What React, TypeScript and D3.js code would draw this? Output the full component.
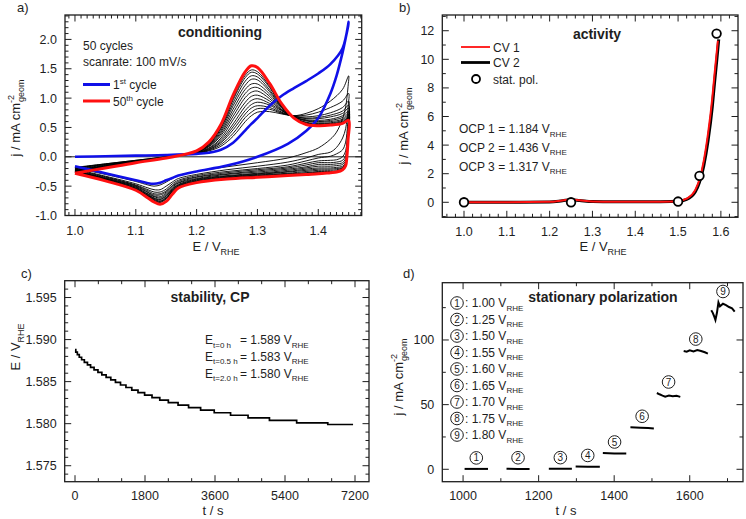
import React from "react";
import * as d3 from "d3";

const FONT = "'Liberation Sans', Arial, Helvetica, sans-serif";
const INK = "#1e1e1e";

// ---------------- Panel a: conditioning (50 CV cycles) ----------------
const condAnodicE = [1.0, 1.05, 1.1, 1.15, 1.2, 1.22, 1.24, 1.26, 1.28, 1.29, 1.3, 1.32, 1.34, 1.36, 1.38, 1.4, 1.42, 1.44, 1.45];
const condCathodicE = [1.45, 1.449, 1.447, 1.445, 1.44, 1.43, 1.42, 1.4, 1.38, 1.35, 1.3, 1.25, 1.2, 1.17, 1.16, 1.15, 1.14, 1.13, 1.12, 1.1, 1.05, 1.0];

const cycle1Anodic = [0.0, 0.01, 0.02, 0.03, 0.05, 0.07, 0.12, 0.24, 0.45, 0.56, 0.66, 0.87, 1.04, 1.17, 1.29, 1.42, 1.58, 1.85, 2.3];
const cycle1Cathodic = [2.3, 2.22, 2.12, 2.02, 1.78, 1.38, 1.08, 0.66, 0.44, 0.22, 0.0, -0.15, -0.25, -0.32, -0.36, -0.4, -0.44, -0.46, -0.45, -0.4, -0.28, -0.16];

const cycle50Anodic = [-0.28, -0.19, -0.1, -0.02, 0.1, 0.25, 0.55, 1.05, 1.45, 1.55, 1.52, 1.25, 0.9, 0.66, 0.55, 0.53, 0.54, 0.57, 0.62];
const cycle50Cathodic = [0.62, 0.3, 0.0, -0.15, -0.22, -0.26, -0.27, -0.29, -0.3, -0.32, -0.35, -0.38, -0.44, -0.53, -0.64, -0.76, -0.81, -0.77, -0.7, -0.57, -0.41, -0.28];

const midCyclesAnodic: number[][] = [
  [-0.18, -0.12, -0.06, 0.0, 0.06, 0.1, 0.18, 0.35, 0.6, 0.7, 0.76, 0.77, 0.73, 0.7, 0.74, 0.82, 0.95, 1.15, 1.38],
  [-0.19, -0.12, -0.06, 0.0, 0.06, 0.11, 0.21, 0.4, 0.67, 0.76, 0.82, 0.81, 0.74, 0.7, 0.71, 0.76, 0.84, 0.95, 1.08],
  [-0.19, -0.13, -0.07, 0.0, 0.07, 0.12, 0.24, 0.46, 0.73, 0.83, 0.87, 0.84, 0.75, 0.69, 0.68, 0.7, 0.75, 0.84, 0.95],
  [-0.2, -0.13, -0.07, -0.01, 0.07, 0.13, 0.26, 0.51, 0.79, 0.89, 0.93, 0.88, 0.76, 0.69, 0.66, 0.67, 0.71, 0.78, 0.88],
  [-0.21, -0.14, -0.07, -0.01, 0.07, 0.14, 0.29, 0.56, 0.86, 0.96, 0.99, 0.91, 0.78, 0.69, 0.65, 0.65, 0.68, 0.74, 0.83],
  [-0.22, -0.15, -0.08, -0.01, 0.08, 0.15, 0.32, 0.63, 0.93, 1.03, 1.05, 0.95, 0.79, 0.68, 0.63, 0.62, 0.64, 0.7, 0.78],
  [-0.23, -0.15, -0.08, -0.01, 0.08, 0.17, 0.36, 0.69, 1.01, 1.1, 1.12, 0.99, 0.8, 0.68, 0.62, 0.6, 0.62, 0.67, 0.75],
  [-0.23, -0.16, -0.08, -0.01, 0.08, 0.18, 0.39, 0.75, 1.08, 1.17, 1.18, 1.03, 0.81, 0.68, 0.61, 0.59, 0.6, 0.64, 0.72],
  [-0.24, -0.16, -0.09, -0.01, 0.09, 0.19, 0.42, 0.81, 1.15, 1.24, 1.24, 1.07, 0.83, 0.67, 0.59, 0.57, 0.58, 0.62, 0.7],
  [-0.25, -0.17, -0.09, -0.02, 0.09, 0.2, 0.45, 0.87, 1.22, 1.32, 1.31, 1.11, 0.84, 0.67, 0.58, 0.56, 0.57, 0.6, 0.68],
  [-0.26, -0.17, -0.09, -0.02, 0.09, 0.21, 0.48, 0.92, 1.29, 1.38, 1.36, 1.14, 0.85, 0.67, 0.57, 0.55, 0.56, 0.59, 0.67],
  [-0.26, -0.18, -0.1, -0.02, 0.1, 0.22, 0.5, 0.97, 1.35, 1.44, 1.41, 1.18, 0.86, 0.66, 0.57, 0.55, 0.55, 0.58, 0.66],
  [-0.27, -0.18, -0.1, -0.02, 0.1, 0.23, 0.52, 1.0, 1.39, 1.48, 1.45, 1.2, 0.87, 0.66, 0.56, 0.54, 0.55, 0.58, 0.65],
];
const midCyclesCathodic: number[][] = [
  [1.38, 1.2, 1.0, 0.85, 0.65, 0.42, 0.3, 0.15, 0.07, -0.02, -0.1, -0.17, -0.25, -0.32, -0.37, -0.43, -0.48, -0.5, -0.48, -0.42, -0.3, -0.19],
  [1.08, 0.85, 0.62, 0.48, 0.32, 0.16, 0.08, 0.04, -0.02, -0.09, -0.16, -0.22, -0.3, -0.37, -0.43, -0.5, -0.56, -0.56, -0.53, -0.46, -0.33, -0.21],
  [0.95, 0.65, 0.4, 0.25, 0.12, 0.05, 0.01, -0.02, -0.07, -0.14, -0.2, -0.25, -0.32, -0.4, -0.46, -0.55, -0.6, -0.6, -0.56, -0.48, -0.34, -0.22],
  [0.88, 0.5, 0.25, 0.1, 0.0, -0.05, -0.06, -0.07, -0.11, -0.17, -0.22, -0.27, -0.34, -0.42, -0.49, -0.58, -0.63, -0.63, -0.58, -0.49, -0.35, -0.23],
  [0.83, 0.4, 0.15, 0.02, -0.06, -0.09, -0.1, -0.1, -0.14, -0.19, -0.24, -0.29, -0.35, -0.44, -0.5, -0.6, -0.65, -0.65, -0.6, -0.5, -0.36, -0.24],
  [0.78, 0.35, 0.1, -0.03, -0.1, -0.12, -0.13, -0.13, -0.17, -0.21, -0.26, -0.3, -0.37, -0.45, -0.52, -0.62, -0.68, -0.67, -0.61, -0.51, -0.37, -0.24],
  [0.75, 0.33, 0.06, -0.07, -0.13, -0.15, -0.16, -0.16, -0.19, -0.23, -0.28, -0.32, -0.38, -0.47, -0.54, -0.64, -0.7, -0.68, -0.63, -0.52, -0.37, -0.25],
  [0.72, 0.32, 0.04, -0.1, -0.16, -0.18, -0.19, -0.19, -0.21, -0.25, -0.29, -0.33, -0.39, -0.48, -0.55, -0.66, -0.72, -0.7, -0.64, -0.53, -0.38, -0.25],
  [0.7, 0.31, 0.03, -0.11, -0.18, -0.2, -0.21, -0.21, -0.23, -0.26, -0.3, -0.34, -0.4, -0.49, -0.56, -0.67, -0.73, -0.71, -0.65, -0.54, -0.38, -0.26],
  [0.68, 0.3, 0.02, -0.12, -0.19, -0.22, -0.23, -0.23, -0.25, -0.28, -0.31, -0.35, -0.41, -0.5, -0.58, -0.69, -0.75, -0.72, -0.66, -0.55, -0.39, -0.26],
  [0.67, 0.3, 0.01, -0.13, -0.2, -0.24, -0.25, -0.25, -0.27, -0.29, -0.32, -0.36, -0.42, -0.51, -0.58, -0.7, -0.76, -0.73, -0.67, -0.55, -0.39, -0.26],
  [0.66, 0.3, 0.0, -0.14, -0.21, -0.25, -0.26, -0.26, -0.28, -0.3, -0.33, -0.36, -0.42, -0.51, -0.59, -0.71, -0.77, -0.74, -0.67, -0.55, -0.4, -0.27],
  [0.65, 0.3, 0.0, -0.14, -0.21, -0.25, -0.27, -0.27, -0.29, -0.31, -0.34, -0.37, -0.43, -0.52, -0.6, -0.72, -0.78, -0.75, -0.68, -0.56, -0.4, -0.27],
];
const aXTicks = [1.0, 1.1, 1.2, 1.3, 1.4];
const aYTicks = [-1.0, -0.5, 0.0, 0.5, 1.0, 1.5, 2.0];

// ---------------- Panel b: activity ----------------
const cv1E = [1.0, 1.1, 1.2, 1.23, 1.25, 1.27, 1.3, 1.35, 1.4, 1.45, 1.5, 1.52, 1.54, 1.55, 1.56, 1.57, 1.58, 1.585, 1.59, 1.593];
const cv1J = [0.0, 0.0, 0.03, 0.13, 0.2, 0.14, 0.05, 0.03, 0.03, 0.04, 0.08, 0.25, 0.85, 1.6, 2.9, 4.8, 7.3, 8.9, 10.4, 11.3];
const cv2E = [1.0, 1.1, 1.2, 1.23, 1.25, 1.27, 1.3, 1.35, 1.4, 1.45, 1.5, 1.52, 1.54, 1.55, 1.56, 1.57, 1.58, 1.585, 1.59, 1.595];
const cv2J = [0.0, 0.0, 0.02, 0.11, 0.18, 0.13, 0.05, 0.03, 0.03, 0.04, 0.07, 0.2, 0.72, 1.4, 2.55, 4.3, 6.7, 8.3, 9.8, 11.4];
const statE = [1.0, 1.25, 1.5, 1.55, 1.59];
const statJ = [0.0, 0.0, 0.05, 1.85, 11.8];
const bXTicks = [1.0, 1.1, 1.2, 1.3, 1.4, 1.5, 1.6];
const bYTicks = [0, 2, 4, 6, 8, 10, 12];
const ocpLabels = ["OCP 1 = 1.184 V", "OCP 2 = 1.436 V", "OCP 3 = 1.317 V"];

// ---------------- Panel c: stability, CP ----------------
const cpT = [0, 20, 60, 110, 170, 240, 320, 400, 490, 590, 690, 800, 920, 1040, 1170, 1310, 1460, 1620, 1790, 1980, 2180, 2400, 2650, 2920, 3230, 3580, 4000, 4450, 5000, 5700, 6500, 7150];
const cpE = [1.5888, 1.5885, 1.5882, 1.5879, 1.5876, 1.5873, 1.587, 1.5867, 1.5864, 1.5861, 1.5858, 1.5855, 1.5852, 1.5849, 1.5846, 1.5843, 1.584, 1.5837, 1.5834, 1.5831, 1.5828, 1.5825, 1.5822, 1.5819, 1.5816, 1.5813, 1.581, 1.5807, 1.5804, 1.5801, 1.5799, 1.5799];
const cXTicks = [0, 1800, 3600, 5400, 7200];
const cYTicks = [1.575, 1.58, 1.585, 1.59, 1.595];
const cpSubs = ["t=0 h", "t=0.5 h", "t=2.0 h"];
const cpVals = ["= 1.589 V", "= 1.583 V", "= 1.580 V"];

// ---------------- Panel d: stationary polarization ----------------
const polT: number[][] = [
  [1004, 1030, 1066],
  [1115, 1145, 1176],
  [1227, 1260, 1288],
  [1298, 1330, 1362],
  [1370, 1400, 1432],
  [1443, 1470, 1490, 1505],
  [1513, 1520, 1528, 1535, 1545, 1555, 1565, 1575],
  [1584, 1592, 1600, 1610, 1620, 1630, 1640, 1648],
  [1657, 1661, 1665, 1668, 1672, 1676, 1680, 1688, 1696, 1704, 1712, 1719],
];
const polJ: number[][] = [
  [0.3, 0.3, 0.3],
  [0.4, 0.3, 0.3],
  [0.5, 0.4, 0.4],
  [2.2, 2.0, 2.0],
  [12.6, 12.3, 12.2],
  [32.5, 32.2, 32.0, 31.6],
  [59.0, 58.0, 57.0, 56.2, 57.0, 56.5, 56.8, 56.0],
  [91.5, 91.0, 92.0, 91.2, 92.2, 91.5, 90.5, 89.5],
  [123, 121, 118, 115.5, 121, 129, 126, 128, 127, 125.5, 124.5, 122],
];
const polV = ["1.00", "1.25", "1.50", "1.55", "1.60", "1.65", "1.70", "1.75", "1.80"];
const dXTicks = [1000, 1200, 1400, 1600];
const dYTicks = [0, 50, 100];

// ---------------- helpers ----------------
type Sc = d3.ScaleLinear<number, number>;

function Axes(props: {
  xs: Sc; ys: Sc; xMajor: number[]; xMinor: number[]; yMajor: number[]; yMinor: number[];
  xFmt: (v: number) => string; yFmt: (v: number) => string; xLabelDy?: number;
}) {
  const { xs, ys, xMajor, xMinor, yMajor, yMinor, xFmt, yFmt } = props;
  const xLabelDy = props.xLabelDy ?? 19.5;
  const [L, R] = xs.range();
  const [B, T] = ys.range();
  const MAJ = 6.5, MIN = 3.5;
  const inX = (v: number) => xs(v) > L + 0.5 && xs(v) < R - 0.5;
  const inY = (v: number) => ys(v) < B - 0.5 && ys(v) > T + 0.5;
  const notMaj = (arr: number[], maj: number[]) => arr.filter((v) => !maj.some((m) => Math.abs(m - v) < 1e-9 * Math.max(1, Math.abs(v)) + 1e-9));
  const els: React.ReactNode[] = [];
  notMaj(xMinor, xMajor).filter(inX).forEach((v, i) => {
    const p = xs(v);
    els.push(<line key={"xm" + i} x1={p} x2={p} y1={B} y2={B - MIN} />);
    els.push(<line key={"xmt" + i} x1={p} x2={p} y1={T} y2={T + MIN} />);
  });
  xMajor.filter(inX).forEach((v, i) => {
    const p = xs(v);
    els.push(<line key={"xM" + i} x1={p} x2={p} y1={B} y2={B - MAJ} />);
    els.push(<line key={"xMt" + i} x1={p} x2={p} y1={T} y2={T + MAJ} />);
  });
  notMaj(yMinor, yMajor).filter(inY).forEach((v, i) => {
    const p = ys(v);
    els.push(<line key={"ym" + i} y1={p} y2={p} x1={L} x2={L + MIN} />);
    els.push(<line key={"ymr" + i} y1={p} y2={p} x1={R} x2={R - MIN} />);
  });
  yMajor.filter((v) => ys(v) < B + 0.5 && ys(v) > T).forEach((v, i) => {
    const p = ys(v);
    els.push(<line key={"yM" + i} y1={p} y2={p} x1={L} x2={L + MAJ} />);
    els.push(<line key={"yMr" + i} y1={p} y2={p} x1={R} x2={R - MAJ} />);
  });
  return (
    <g>
      <g stroke={INK} strokeWidth={1}>{els}</g>
      <rect x={L} y={T} width={R - L} height={B - T} fill="none" stroke={INK} strokeWidth={1.3} />
      <g fontSize={12.5} fill={INK} fontFamily={FONT}>
        {xMajor.map((v, i) => (
          <text key={"xl" + i} x={xs(v)} y={B + xLabelDy} textAnchor="middle">{xFmt(v)}</text>
        ))}
        {yMajor.map((v, i) => (
          <text key={"yl" + i} x={L - 8} y={ys(v) + 4.5} textAnchor="end">{yFmt(v)}</text>
        ))}
      </g>
    </g>
  );
}

function JLabel({ x, y }: { x: number; y: number }) {
  return (
    <text transform={`translate(${x},${y}) rotate(-90)`} textAnchor="middle" fontSize={13} fill={INK} fontFamily={FONT}>
      j / mA cm
      <tspan fontSize={9} dy={-6}>-2</tspan>
      <tspan fontSize={9} dx={-7} dy={10}>geom</tspan>
    </text>
  );
}

function EVLabel({ x, y, rotate }: { x: number; y: number; rotate?: boolean }) {
  return (
    <text transform={`translate(${x},${y})${rotate ? " rotate(-90)" : ""}`} textAnchor="middle" fontSize={13} fill={INK} fontFamily={FONT}>
      E / V<tspan fontSize={9} dy={3.5}>RHE</tspan>
    </text>
  );
}

const minorRange = (a: number, b: number, step: number) => d3.range(Math.round(a / step), Math.round(b / step) + 1).map((i) => +(i * step).toFixed(6));

export default function App() {
  // ---- panel a
  const ax = d3.scaleLinear().domain([0.9836, 1.4714]).range([65, 361.7]);
  const ay = d3.scaleLinear().domain([-1.0, 2.416]).range([215.5, 15]);
  const cr = d3.curveCatmullRom.alpha(0.5);
  const aLine = d3.line<[number, number]>().x((d) => ax(d[0])).y((d) => ay(d[1])).curve(cr);
  const cyclePts = (an: number[], ca: number[]): [number, number][] => [
    ...condAnodicE.map((e, i) => [e, an[i]] as [number, number]),
    ...condCathodicE.slice(1).map((e, i) => [e, ca[i + 1]] as [number, number]),
  ];

  // ---- panel b
  const bx = d3.scaleLinear().domain([0.9493, 1.64]).range([442.3, 738]);
  const by = d3.scaleLinear().domain([-1.05, 13.1]).range([217.3, 15]);
  const bLine = d3.line<[number, number]>().x((d) => bx(d[0])).y((d) => by(d[1])).curve(d3.curveMonotoneX);

  // ---- panel c
  const cx = d3.scaleLinear().domain([-265, 7560]).range([64.7, 369]);
  const cy = d3.scaleLinear().domain([1.5731, 1.597]).range([481.7, 280.7]);
  const cLine = d3.line<[number, number]>().x((d) => cx(d[0])).y((d) => cy(d[1])).curve(d3.curveStepAfter);

  // ---- panel d
  const dx = d3.scaleLinear().domain([945, 1741]).range([442.3, 743]);
  const dy = d3.scaleLinear().domain([-9.6, 144.3]).range([481.7, 282.7]);
  const dLine = d3.line<[number, number]>().x((d) => dx(d[0])).y((d) => dy(d[1]));

  const legendY0 = 303, legendStep = 16.5;

  return (
    <svg width={746} height={519} viewBox="0 0 746 519" style={{ position: "absolute", left: 0, top: 0, background: "#fff" }} fontFamily={FONT}>
      <rect width={746} height={519} fill="#fff" />

      {/* ================= Panel a ================= */}
      <g>
        <line x1={65} x2={361.7} y1={ay(0)} y2={ay(0)} stroke={INK} strokeWidth={1} />
        {midCyclesAnodic.map((an, k) => (
          <path key={"mc" + k} d={aLine(cyclePts(an, midCyclesCathodic[k])) || ""} fill="none" stroke="#000" strokeWidth={0.9} />
        ))}
        <path d={aLine(cyclePts(cycle1Anodic, cycle1Cathodic)) || ""} fill="none" stroke="#1010e8" strokeWidth={2.6} strokeLinejoin="round" />
        <path d={aLine(cyclePts(cycle50Anodic, cycle50Cathodic)) || ""} fill="none" stroke="#ff1010" strokeWidth={3} strokeLinejoin="round" />
        <Axes
          xs={ax} ys={ay}
          xMajor={aXTicks} xMinor={minorRange(0.98, 1.47, 0.01)}
          yMajor={aYTicks} yMinor={minorRange(-1.0, 2.4, 0.1)}
          xFmt={(v) => v.toFixed(1)} yFmt={(v) => v.toFixed(1)}
        />
        <text x={17} y={11.5} fontSize={13} fill={INK}>a)</text>
        <text x={220} y={37} fontSize={14} fontWeight="bold" textAnchor="middle" fill={INK}>conditioning</text>
        <text x={83} y={49.5} fontSize={12} fill={INK}>50 cycles</text>
        <text x={83} y={66} fontSize={12} fill={INK}>scanrate: 100 mV/s</text>
        <line x1={83} x2={110} y1={84.5} y2={84.5} stroke="#1010e8" strokeWidth={3} />
        <text x={113} y={89} fontSize={12} fill={INK}>1<tspan fontSize={8} dy={-5}>st</tspan><tspan dy={5}> cycle</tspan></text>
        <line x1={83} x2={110} y1={101} y2={101} stroke="#ff1010" strokeWidth={3} />
        <text x={113} y={105.5} fontSize={12} fill={INK}>50<tspan fontSize={8} dy={-5}>th</tspan><tspan dy={5}> cycle</tspan></text>
        <EVLabel x={216} y={251} />
        <JLabel x={20} y={118} />
      </g>

      {/* ================= Panel b ================= */}
      <g>
        <path d={bLine(cv2E.map((e, i) => [e, cv2J[i]] as [number, number])) || ""} fill="none" stroke="#000" strokeWidth={3} />
        <path d={bLine(cv1E.map((e, i) => [e, cv1J[i]] as [number, number])) || ""} fill="none" stroke="#ff1010" strokeWidth={2} />
        {statE.map((e, i) => (
          <circle key={"sp" + i} cx={bx(e)} cy={by(statJ[i])} r={4.3} fill="#fff" stroke="#000" strokeWidth={1.8} />
        ))}
        <Axes
          xs={bx} ys={by}
          xMajor={bXTicks} xMinor={minorRange(0.96, 1.64, 0.02)}
          yMajor={bYTicks} yMinor={minorRange(-1, 13, 1)}
          xFmt={(v) => v.toFixed(1)} yFmt={(v) => String(v)}
          xLabelDy={18.5}
        />
        <text x={399} y={11.5} fontSize={13} fill={INK}>b)</text>
        <text x={597} y={39} fontSize={14} fontWeight="bold" textAnchor="middle" fill={INK}>activity</text>
        <line x1={461} x2={490} y1={47} y2={47} stroke="#ff1010" strokeWidth={1.8} />
        <text x={493} y={51.5} fontSize={12} fill={INK}>CV 1</text>
        <line x1={461} x2={490} y1={62.5} y2={62.5} stroke="#000" strokeWidth={2.8} />
        <text x={493} y={67} fontSize={12} fill={INK}>CV 2</text>
        <circle cx={476} cy={79} r={4} fill="#fff" stroke="#000" strokeWidth={1.8} />
        <text x={493} y={83.5} fontSize={12} fill={INK}>stat. pol.</text>
        {ocpLabels.map((s, i) => (
          <text key={"ocp" + i} x={459} y={133 + i * 18.8} fontSize={12} fill={INK}>
            {s}<tspan fontSize={8} dy={3.5}>RHE</tspan>
          </text>
        ))}
        <EVLabel x={603} y={251} />
        <JLabel x={408} y={126} />
      </g>

      {/* ================= Panel c ================= */}
      <g>
        <path d={cLine(cpT.map((t, i) => [t, cpE[i]] as [number, number])) || ""} fill="none" stroke="#000" strokeWidth={1.7} />
        <Axes
          xs={cx} ys={cy}
          xMajor={cXTicks} xMinor={minorRange(0, 7200, 600)}
          yMajor={cYTicks} yMinor={minorRange(1.574, 1.596, 0.001)}
          xFmt={(v) => String(v)} yFmt={(v) => v.toFixed(3)}
          xLabelDy={18}
        />
        <text x={21} y={278} fontSize={13} fill={INK}>c)</text>
        <text x={210} y={302} fontSize={14} fontWeight="bold" textAnchor="middle" fill={INK}>stability, CP</text>
        {cpSubs.map((s, i) => (
          <g key={"cp" + i}>
            <text x={205} y={344 + i * 16.8} fontSize={12} fill={INK}>E<tspan fontSize={8} dy={3.5}>{s}</tspan></text>
            <text x={240} y={344 + i * 16.8} fontSize={12} fill={INK}>{cpVals[i]}<tspan fontSize={8} dy={3.5}>RHE</tspan></text>
          </g>
        ))}
        <text x={213} y={515} fontSize={13} textAnchor="middle" fill={INK}>t / s</text>
        <EVLabel x={20} y={347} rotate />
      </g>

      {/* ================= Panel d ================= */}
      <g>
        {polT.map((ts, k) => (
          <path key={"seg" + k} d={dLine(ts.map((t, i) => [t, polJ[k][i]] as [number, number])) || ""} fill="none" stroke="#000" strokeWidth={2} />
        ))}
        {polT.map((ts, k) => {
          const mx = dx((ts[0] + ts[ts.length - 1]) / 2);
          const my = dy(d3.max(polJ[k]) as number) - 11;
          return (
            <g key={"lab" + k}>
              <circle cx={mx} cy={my} r={6.3} fill="#fff" stroke={INK} strokeWidth={1} />
              <text x={mx} y={my + 3.6} fontSize={10} textAnchor="middle" fill={INK}>{k + 1}</text>
            </g>
          );
        })}
        <Axes
          xs={dx} ys={dy}
          xMajor={dXTicks} xMinor={minorRange(900, 1800, 100)}
          yMajor={dYTicks} yMinor={minorRange(-25, 150, 25)}
          xFmt={(v) => String(v)} yFmt={(v) => String(v)}
          xLabelDy={18}
        />
        <text x={403} y={278} fontSize={13} fill={INK}>d)</text>
        <text x={603} y={302} fontSize={14} fontWeight="bold" textAnchor="middle" fill={INK}>stationary polarization</text>
        {polV.map((v, k) => {
          const yy = legendY0 + k * legendStep;
          return (
            <g key={"lg" + k}>
              <circle cx={457} cy={yy} r={6.3} fill="#fff" stroke={INK} strokeWidth={1} />
              <text x={457} y={yy + 3.6} fontSize={10} textAnchor="middle" fill={INK}>{k + 1}</text>
              <text x={465} y={yy + 4.3} fontSize={12} fill={INK}>: {v} V<tspan fontSize={8} dy={3.5}>RHE</tspan></text>
            </g>
          );
        })}
        <text x={566} y={515} fontSize={13} textAnchor="middle" fill={INK}>t / s</text>
        <JLabel x={403} y={377} />
      </g>
    </svg>
  );
}
